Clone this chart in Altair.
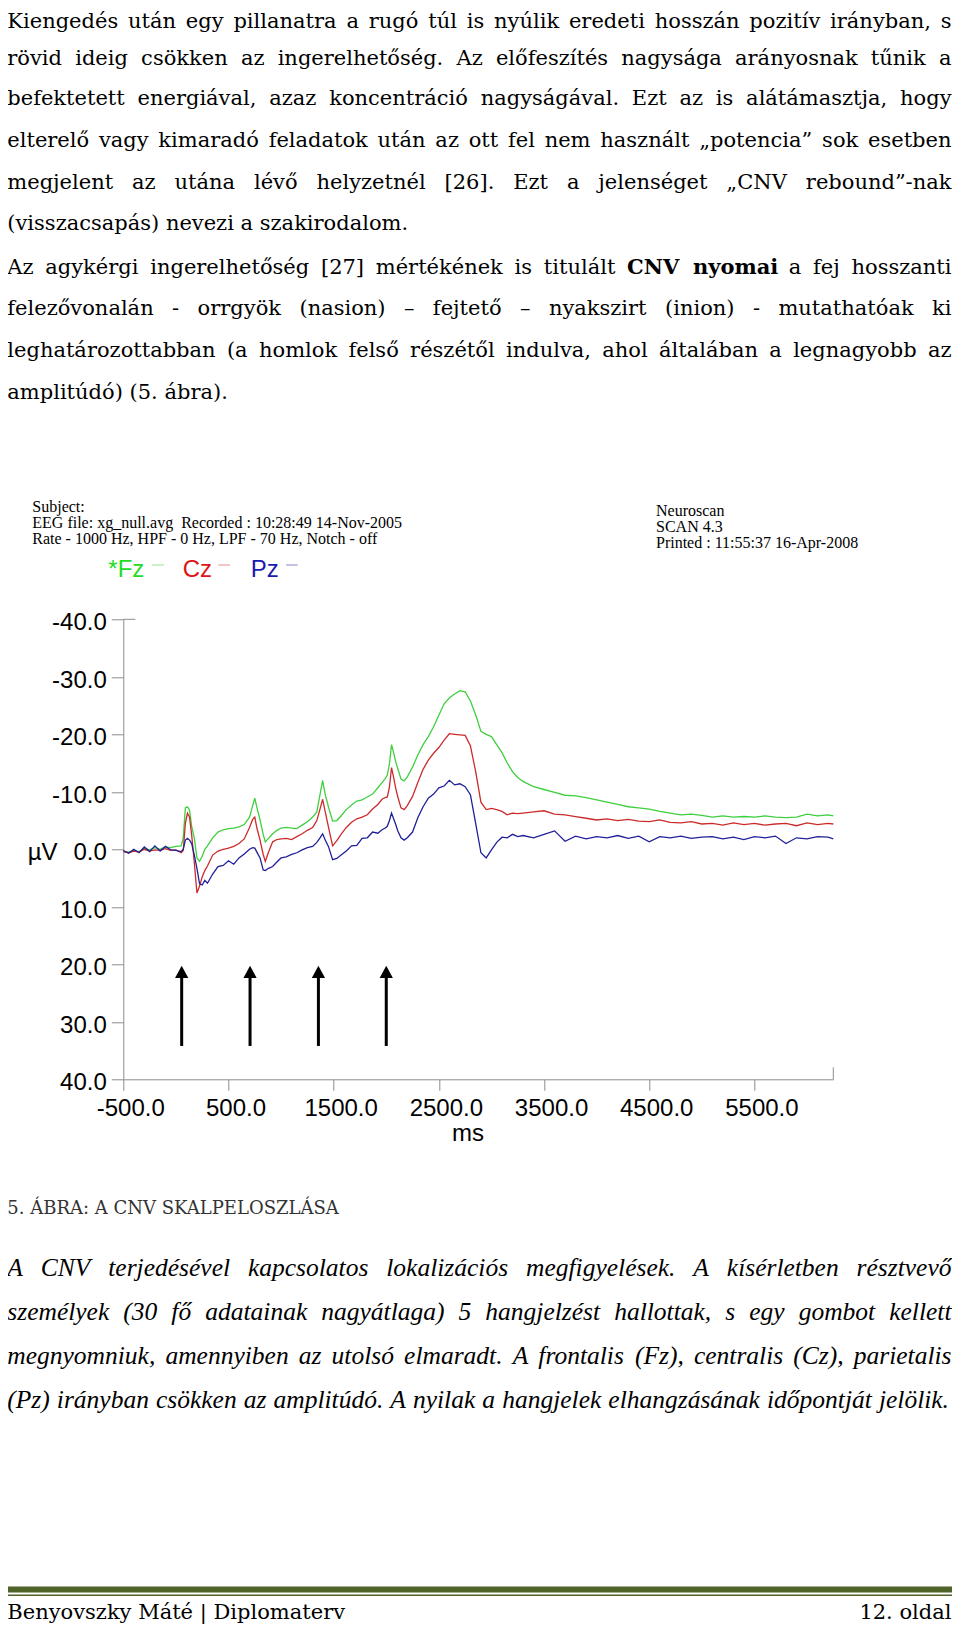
import unicodedata
import altair as alt
import pandas as pd

# ------------------------------------------------------------------ data
t_ms = [-500, -450, -400, -350, -300, -250, -200, -150, -100, -50, 0, 50,
        70, 90, 110, 130, 150, 175, 200, 225, 250, 275, 300,
        350, 400, 450, 500, 550, 600, 650, 700, 730, 750, 770, 800, 830, 850, 880, 920, 960, 1000,
        1050, 1100, 1150, 1200, 1250, 1300, 1340, 1370, 1395, 1420, 1450, 1490, 1530, 1570, 1620,
        1670, 1720, 1770, 1820, 1870, 1920, 1960, 1990, 2010, 2030, 2050, 2070, 2090, 2110, 2140,
        2170, 2200,
        2250, 2300, 2350, 2400, 2450, 2500, 2550, 2600, 2650, 2700, 2750, 2800, 2850, 2900, 2950,
        3000, 3050, 3100, 3150, 3200, 3250, 3300,
        3400, 3500, 3600, 3700, 3800, 3900, 4000, 4100, 4200, 4300, 4400, 4500, 4600, 4700, 4800,
        4900, 5000, 5100, 5200, 5300, 5400, 5500, 5600, 5700, 5800, 5900, 6000, 6100, 6200, 6250]

fz_uv = [0.3, 0.5, 0.2, 0.4, -0.2, 0.1, -0.3, 0.0, -0.4, -0.3, -0.5, -0.6,
         -2.0, -7.2, -7.4, -6.8, -4.0, -2.0, 1.5, 2.1, 1.2, 0.0, -0.6,
         -2.0, -3.0, -3.4, -3.6, -3.7, -3.9, -4.3, -5.6, -7.6, -8.9, -7.3, -5.1, -2.6, -1.3, -1.9, -2.7, -3.3, -3.7,
         -3.8, -3.7, -3.6, -4.2, -4.8, -5.6, -6.5, -9.5, -12.0, -9.5, -7.4, -4.9, -5.0, -5.8, -6.9,
         -7.7, -8.4, -8.6, -9.1, -9.6, -10.7, -11.6, -12.3, -12.9, -14.8, -18.2, -16.8, -15.2, -14.0, -12.2,
         -11.9, -12.6,
         -14.3, -16.4, -18.2, -19.6, -21.3, -23.3, -25.3, -26.3, -27.0, -27.6, -27.4, -25.8, -23.4, -20.5, -20.0,
         -19.6, -18.2, -16.8, -15.0, -13.5, -12.5, -11.8,
         -10.9, -10.4, -9.9, -9.4, -9.3, -9.0, -8.6, -8.2, -7.8, -7.4, -7.2, -7.0, -6.6, -6.3, -6.0,
         -6.1, -5.9, -5.6, -5.8, -5.6, -5.7, -5.6, -5.8, -5.6, -5.5, -5.6, -6.1, -5.8, -6.0, -5.8]

cz_uv = [0.4, 0.6, 0.3, 0.5, 0.0, 0.3, 0.1, 0.2, -0.1, 0.2, 0.1, 0.6,
         0.2, -4.5, -6.3, -5.6, -2.5, 2.3, 7.6, 6.4, 4.8, 3.7, 2.9,
         1.0, 0.3, 0.0, -0.2, -0.5, -1.0, -1.8, -3.8, -5.2, -5.6, -3.7, -1.6, 0.9, 2.1, 0.5, -1.3, -1.7, -1.8,
         -1.9, -1.7, -2.2, -2.7, -3.3, -3.8, -5.0, -7.0, -8.7, -6.5, -3.9, -0.6, -1.5, -2.6, -3.8,
         -4.7, -5.3, -5.6, -6.0, -7.0, -7.8, -8.7, -9.0, -9.1, -10.8, -14.2, -12.5, -10.6, -9.1, -7.2,
         -6.9, -7.6,
         -9.2, -11.6, -13.9, -15.5, -16.7, -17.7, -19.0, -20.1, -20.0, -19.9, -19.8, -18.0, -13.5, -8.2, -6.9,
         -7.1, -6.9, -6.6, -6.0, -6.3, -6.2, -6.3,
         -6.5, -6.7, -6.1, -6.0, -5.7, -5.4, -5.1, -5.3, -5.0, -5.2, -4.9, -4.8, -5.1, -4.7, -4.6,
         -4.8, -4.4, -4.5, -4.2, -4.6, -4.3, -4.5, -4.2, -4.4, -4.5, -4.1, -4.6, -4.3, -4.5, -4.4]

pz_uv = [0.2, 0.7, 0.0, 0.6, -0.4, 0.4, -0.6, 0.3, -0.5, 0.1, 0.2, 0.4,
         0.0, -1.6, -1.9, -1.6, -1.0, 1.0, 3.3, 6.0, 6.2, 5.4, 5.9,
         4.3, 3.0, 2.8, 2.0, 2.6, 1.5, 0.8, 0.0, -0.3, -0.2, 0.5, 1.5, 3.6, 3.7, 3.3, 3.0, 2.2, 1.5,
         1.3, 0.9, 0.6, 0.1, -0.3, -0.5, -1.2, -2.0, -2.7, -1.6, -0.5, 1.8, 1.6, 1.0, 0.3,
         -0.6, -0.7, -1.9, -2.0, -3.0, -2.8, -3.4, -3.7, -4.0, -5.0, -6.3, -5.3, -4.3, -3.2, -2.0,
         -1.6, -2.0,
         -3.0, -5.5, -7.4, -8.9, -9.6, -10.7, -11.0, -12.0, -11.2, -11.4, -10.9, -9.5, -4.5, 0.6, 1.5,
         0.1, -1.2, -2.1, -2.0, -2.6, -2.2, -2.4,
         -2.0, -2.6, -3.2, -1.4, -2.3, -1.8, -2.2, -2.0, -2.4, -1.9, -2.3, -1.3, -2.2, -2.0, -2.3,
         -1.9, -2.1, -2.2, -1.8, -2.1, -1.7, -2.2, -2.0, -2.3, -1.0, -2.0, -1.8, -2.2, -2.1, -1.8]

channels = ["Fz", "Cz", "Pz"]
legend_labels = ["*Fz", "Cz", "Pz"]
stimuli_ms = [55, 705, 1355, 2000]
x_ticks = [-500, 500, 1500, 2500, 3500, 4500, 5500]
y_ticks = [-40, -30, -20, -10, 0, 10, 20, 30, 40]

para1 = [
    "Kiengedés után egy pillanatra a rugó túl is nyúlik eredeti hosszán pozitív irányban, s",
    "rövid ideig csökken az ingerelhetőség. Az előfeszítés nagysága arányosnak tűnik a",
    "befektetett energiával, azaz koncentráció nagyságával. Ezt az is alátámasztja, hogy",
    "elterelő vagy kimaradó feladatok után az ott fel nem használt „potencia” sok esetben",
    "megjelent az utána lévő helyzetnél [26]. Ezt a jelenséget „CNV rebound”-nak",
    "(visszacsapás) nevezi a szakirodalom.",
]
para2 = [
    "Az agykérgi ingerelhetőség [27] mértékének is titulált CNV nyomai a fej hosszanti",
    "felezővonalán - orrgyök (nasion) – fejtető – nyakszirt (inion) - mutathatóak ki",
    "leghatározottabban (a homlok felső részétől indulva, ahol általában a legnagyobb az",
    "amplitúdó) (5. ábra).",
]
bold_words = ["CNV", "nyomai"]
header_left = ["Subject:",
               "EEG file: xg_null.avg\u00a0 Recorded : 10:28:49 14-Nov-2005",
               "Rate - 1000 Hz, HPF - 0 Hz, LPF - 70 Hz, Notch - off"]
header_right = ["Neuroscan", "SCAN 4.3", "Printed : 11:55:37 16-Apr-2008"]
caption = "5. ÁBRA: A CNV SKALPELOSZLÁSA"
para3 = [
    "A CNV terjedésével kapcsolatos lokalizációs megfigyelések. A kísérletben résztvevő",
    "személyek (30 fő adatainak nagyátlaga) 5 hangjelzést hallottak, s egy gombot kellett",
    "megnyomniuk, amennyiben az utolsó elmaradt. A frontalis (Fz), centralis (Cz), parietalis",
    "(Pz) irányban csökken az amplitúdó. A nyilak a hangjelek elhangzásának időpontját jelölik.",
]
footer_left = "Benyovszky Máté | Diplomaterv"
footer_right = "12. oldal"

# ------------------------------------------------------------------ layout
OX, OY = 123.3, 619.3          # page position of the plot origin
PLOT_W, PLOT_H = 710, 460
SVG_W, SVG_H = 944, 1616       # keeps the page inside the 960x1639 window
RIGHT = 951.5                  # right text edge (page px)
COL = {"Fz": "#3fcf3f", "Cz": "#cc2b2b", "Pz": "#20209a"}
LEG_COL = {"Fz": "#22dd22", "Cz": "#dd1414", "Pz": "#1a1ab0"}
AX_GRAY = "#8c8c8c"

# approximate advance widths (em) used only to space justified words
DV = dict(zip("abcdefghijklmnopqrstuvwxyz",
              [.596, .640, .560, .640, .592, .370, .640, .644, .320, .310, .606, .320, .948,
               .644, .602, .640, .640, .478, .513, .402, .644, .565, .856, .564, .565, .527]))
DV.update(dict(zip("ABCDEFGHIJKLMNOPQRSTUVWXYZ",
                   [.722, .735, .765, .802, .730, .694, .799, .872, .395, .401, .747, .664, 1.024,
                    .875, .820, .673, .820, .753, .685, .667, .843, .722, 1.028, .712, .660, .695])))
DV.update({c: .636 for c in "0123456789"})
DV.update({" ": .318, ".": .318, ",": .318, ":": .337, "(": .390, ")": .390, "[": .390,
           "]": .390, "-": .338, "–": .500, "„": .518, "”": .518, "|": .337})
TI = dict(zip("abcdefghijklmnopqrstuvwxyz",
              [.5, .5, .444, .5, .444, .278, .5, .5, .278, .278, .444, .278, .722,
               .5, .5, .5, .5, .389, .389, .278, .5, .444, .667, .444, .444, .389]))
TI.update(dict(zip("ABCDEFGHIJKLMNOPQRSTUVWXYZ",
                   [.611, .611, .667, .722, .611, .611, .722, .722, .333, .444, .667, .556, .833,
                    .667, .722, .611, .722, .611, .5, .556, .722, .611, .833, .611, .556, .556])))
TI.update({c: .5 for c in "0123456789"})
TI.update({" ": .25, ".": .25, ",": .25, ":": .333, "(": .333, ")": .333})


def base(ch, table):
    if ch in table:
        return ch
    return unicodedata.normalize("NFD", ch)[0]


def est(word, table, fs, k=1.0):
    return sum(table.get(base(c, table), 0.55) for c in word) * fs * k


tokens = []   # text, page X, page Y, group


def add(text, X, Y, group):
    tokens.append({"text": text, "x": X - OX, "y": Y - OY, "g": group})


def justify(line, Y, fs, table, gl, gr, x0=7.3, x1=RIGHT, bolds=()):
    words = line.split(" ")
    ws = [est(w, table, fs, 1.09 if w in bolds else 1.0) for w in words]
    gap = max((x1 - x0 - sum(ws)) / (len(words) - 1), 0.2 * fs)
    x = x0
    for w, wd in zip(words[:-1], ws[:-1]):
        add(w, x, Y, "bold" if w in bolds else gl)
        x += wd + gap
    add(words[-1], x1, Y, gr)


FS_BODY, FS_IT = 21, 25.5
p1_y = [28.0, 64.5, 105.0, 146.5, 188.5, 229.8]
for i, line in enumerate(para1):
    if i < len(para1) - 1:
        justify(line, p1_y[i], FS_BODY, DV, "body", "body_r")
    else:
        add(line, 7.3, p1_y[i], "body")
p2_y = [273.8, 315.2, 356.5, 398.5]
for i, line in enumerate(para2):
    if i < len(para2) - 1:
        justify(line, p2_y[i], FS_BODY, DV, "body", "body_r",
                bolds=bold_words if i == 0 else ())
    else:
        add(line, 7.3, p2_y[i], "body")
p3_y = [1276.0, 1320.0, 1364.0, 1408.0]
for i, line in enumerate(para3):
    justify(line, p3_y[i], FS_IT, TI, "ital", "ital_r", x1=RIGHT if i < 3 else RIGHT - 2.5)

for s, Y in zip(header_left, [511.7, 527.8, 544.0]):
    add(s, 32.3, Y, "head")
for s, Y in zip(header_right, [515.5, 531.7, 548.0]):
    add(s, 656.0, Y, "head")
add(caption, 7.3, 1213.5, "caption")
add(footer_left, 7.3, 1618.5, "foot")
add(footer_right, RIGHT, 1618.5, "foot_r")
add("µV", 27.7, 860.0, "axtxt")
add("ms", 468.0, 1140.5, "axtxt_c")
for lab, ch, X in zip(legend_labels, channels, [108.3, 182.7, 250.7]):
    add(lab, X, 577.3, "leg_" + ch)

tok = pd.DataFrame(tokens)

STYLES = {
    "body": dict(font="DejaVu Serif", fontSize=FS_BODY, align="left"),
    "body_r": dict(font="DejaVu Serif", fontSize=FS_BODY, align="right"),
    "bold": dict(font="DejaVu Serif", fontSize=FS_BODY, align="left", fontWeight="bold"),
    "ital": dict(font="Liberation Serif", fontSize=FS_IT, align="left", fontStyle="italic"),
    "ital_r": dict(font="Liberation Serif", fontSize=FS_IT, align="right", fontStyle="italic"),
    "head": dict(font="Liberation Serif", fontSize=16, align="left"),
    "caption": dict(font="DejaVu Serif", fontSize=18, align="left", color="#333333"),
    "foot": dict(font="DejaVu Serif", fontSize=FS_BODY, align="left"),
    "foot_r": dict(font="DejaVu Serif", fontSize=FS_BODY, align="right"),
    "axtxt": dict(font="Liberation Sans", fontSize=24, align="left"),
    "axtxt_c": dict(font="Liberation Sans", fontSize=24, align="center"),
    "leg_Fz": dict(font="Liberation Sans", fontSize=24, align="left", color=LEG_COL["Fz"]),
    "leg_Cz": dict(font="Liberation Sans", fontSize=24, align="left", color=LEG_COL["Cz"]),
    "leg_Pz": dict(font="Liberation Sans", fontSize=24, align="left", color=LEG_COL["Pz"]),
}

# ------------------------------------------------------------------ chart
label_expr = "(datum.value < 0 ? '-' : '') + format(abs(datum.value), '.1f')"
x_scale = alt.Scale(domain=[-500, 6250], nice=False, zero=False)
y_scale = alt.Scale(domain=[-40, 40], reverse=True, nice=False, zero=False)
x_enc = alt.X("ms:Q", scale=x_scale, axis=alt.Axis(
    values=x_ticks, labelExpr=label_expr, title=None, grid=False, tickSize=11, labelPadding=6,
    labelOffset=7, labelFont="Liberation Sans", labelFontSize=24, labelColor="black",
    domainColor=AX_GRAY, tickColor=AX_GRAY, labelFlush=False, labelOverlap=False))
y_enc = alt.Y("uv:Q", scale=y_scale, axis=alt.Axis(
    values=y_ticks, labelExpr=label_expr, title=None, grid=False, tickSize=12, labelPadding=5,
    labelOffset=3.5, labelFont="Liberation Sans", labelFontSize=24, labelColor="black",
    domainColor=AX_GRAY, tickColor=AX_GRAY, labelFlush=False, labelOverlap=False))

layers = []
for ch, vals in zip(channels, [fz_uv, cz_uv, pz_uv]):
    d = pd.DataFrame({"ms": t_ms, "uv": vals})
    layers.append(alt.Chart(d).mark_line(color=COL[ch], strokeWidth=1.3).encode(x=x_enc, y=y_enc))

stim = pd.DataFrame({"ms": stimuli_ms})
layers.append(alt.Chart(stim).mark_rule(color="black", strokeWidth=3).encode(
    x=x_enc, y=alt.datum(34.2), y2=alt.datum(22.0)))
layers.append(alt.Chart(stim).mark_point(
    shape="M0,-1L1.08,1L-1.08,1Z", filled=True, size=150, color="black", opacity=1,
    strokeWidth=0).encode(x=x_enc, y=alt.datum(21.3)))

one = pd.DataFrame({"k": [0]})


def rule(x, y, x2=None, y2=None, color=AX_GRAY, sw=1.0, opacity=1.0):
    enc = {"x": alt.value(x), "y": alt.value(y)}
    if x2 is not None:
        enc["x2"] = alt.value(x2)
    if y2 is not None:
        enc["y2"] = alt.value(y2)
    return alt.Chart(one).mark_rule(color=color, strokeWidth=sw, opacity=opacity).encode(**enc)


def rect(X0, X1, Y0, Y1, color):
    return alt.Chart(one).mark_rect(color=color).encode(
        x=alt.value(X0 - OX), x2=alt.value(X1 - OX), y=alt.value(Y0 - OY), y2=alt.value(Y1 - OY))


# frame stubs
layers.append(rule(0, 0, x2=12))
layers.append(rule(PLOT_W, PLOT_H, y2=PLOT_H - 12))
# legend dashes
for ch, (a, b) in zip(channels, [(151.7, 164.0), (218.3, 230.0), (286.0, 297.7)]):
    layers.append(rule(a - OX, 565 - OY, x2=b - OX, color=COL[ch], sw=1.2, opacity=0.45))
# footer bars
layers.append(rect(3.3, 952.0, 1586.5, 1592.5, "#4f6228"))
layers.append(rect(3.3, 952.0, 1594.4, 1595.9, "#4f6228"))

for g, st in STYLES.items():
    sub = tok[tok["g"] == g][["text", "x", "y"]]
    if len(sub) == 0:
        continue
    kw = dict(baseline="alphabetic", color="black")
    kw.update(st)
    layers.append(alt.Chart(sub).mark_text(**kw).encode(
        x=alt.X("x:Q", scale=None, axis=None),
        y=alt.Y("y:Q", scale=None, axis=None),
        text="text:N"))

chart = alt.layer(*layers).properties(
    width=PLOT_W, height=PLOT_H,
    autosize=alt.AutoSizeParams(type="none"),
    padding={"left": OX - 8, "top": OY - 8, "right": SVG_W - (OX - 8) - PLOT_W,
             "bottom": SVG_H - (OY - 8) - PLOT_H},
).configure_view(stroke=None)

chart.save("out.html", embed_options={"renderer": "svg", "actions": False})
